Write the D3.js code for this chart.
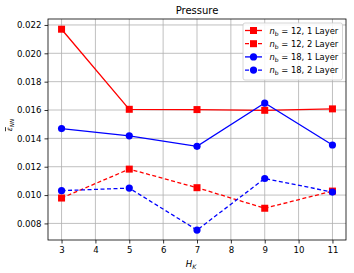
<!DOCTYPE html>
<html>
<head>
<meta charset="utf-8">
<script src="https://cdn.jsdelivr.net/npm/d3@7"></script>
<style>
  body { margin: 0; background: #fff; }
  text { font-family: "DejaVu Sans", sans-serif; }
</style>
</head>
<body>
<svg width="354" height="273"></svg>
<script>
// chart data
const hk = [3, 5, 7, 9, 11];
const nb12Layer1 = [0.0217, 0.01605, 0.01603, 0.01598, 0.01608];
const nb12Layer2 = [0.00979, 0.01183, 0.01052, 0.00907, 0.01028];
const nb18Layer1 = [0.01469, 0.01418, 0.01344, 0.01649, 0.01353];
const nb18Layer2 = [0.01031, 0.01049, 0.00753, 0.01117, 0.01021];
const xTicks = [3, 4, 5, 6, 7, 8, 9, 10, 11];
const yTicks = [0.008, 0.010, 0.012, 0.014, 0.016, 0.018, 0.020, 0.022];

const series = [
    { nb: 12, layer: 1, values: nb12Layer1, color: "#ff0000", dash: null, marker: "square" },
    { nb: 12, layer: 2, values: nb12Layer2, color: "#ff0000", dash: "4,2.5", marker: "square" },
    { nb: 18, layer: 1, values: nb18Layer1, color: "#0000ff", dash: null, marker: "circle" },
    { nb: 18, layer: 2, values: nb18Layer2, color: "#0000ff", dash: "4,2.5", marker: "circle" },
];

const L = 48, R = 346, T = 19, B = 240;
const svg = d3.select("svg");

const x = d3.scaleLinear().domain([2.6, 11.4]).range([L, R]);
const y = d3.scaleLinear().domain([0.00683, 0.02242]).range([B, T]);

// grid
svg.append("g").selectAll("line").data(xTicks).join("line")
    .attr("x1", d => x(d)).attr("x2", d => x(d))
    .attr("y1", T).attr("y2", B)
    .attr("stroke", "#b0b0b0").attr("stroke-width", 0.8);
svg.append("g").selectAll("line").data(yTicks).join("line")
    .attr("x1", L).attr("x2", R)
    .attr("y1", d => y(d)).attr("y2", d => y(d))
    .attr("stroke", "#b0b0b0").attr("stroke-width", 0.8);

// axes
const xAxis = svg.append("g").attr("transform", `translate(0,${B})`)
    .call(d3.axisBottom(x).tickValues(xTicks).tickSize(3.5).tickPadding(3));
const yAxis = svg.append("g").attr("transform", `translate(${L},0)`)
    .call(d3.axisLeft(y).tickValues(yTicks).tickFormat(d3.format(".3f")).tickSize(3.5).tickPadding(3));
[xAxis, yAxis].forEach(a => {
    a.select(".domain").remove();
    a.selectAll("text").attr("font-size", 8.6).attr("fill", "#000")
        .style("font-family", "'DejaVu Sans', sans-serif");
    a.selectAll("line").attr("stroke", "#000").attr("stroke-width", 0.8);
});

// frame
svg.append("rect").attr("x", L).attr("y", T).attr("width", R - L).attr("height", B - T)
    .attr("fill", "none").attr("stroke", "#000").attr("stroke-width", 0.8);

// lines and markers
const line = d3.line().x((d, i) => x(hk[i])).y(d => y(d));
const drawMarker = (g, s, cx, cy) => {
    if (s.marker === "square") {
        g.append("rect").attr("x", cx - 3.5).attr("y", cy - 3.5)
            .attr("width", 7).attr("height", 7).attr("fill", s.color);
    } else {
        g.append("circle").attr("cx", cx).attr("cy", cy).attr("r", 3.6).attr("fill", s.color);
    }
};
series.forEach(s => {
    const g = svg.append("g");
    g.append("path").attr("d", line(s.values))
        .attr("fill", "none").attr("stroke", s.color).attr("stroke-width", 1.3)
        .attr("stroke-dasharray", s.dash);
    s.values.forEach((v, i) => drawMarker(g, s, x(hk[i]), y(v)));
});

// title and labels
svg.append("text").attr("x", (L + R) / 2).attr("y", 14).attr("text-anchor", "middle")
    .attr("font-size", 10).text("Pressure");

const xl = svg.append("text").attr("x", 191).attr("y", 267)
    .attr("text-anchor", "middle").attr("font-size", 8.6).attr("font-style", "italic");
xl.append("tspan").text("H");
xl.append("tspan").attr("font-size", 6.2).attr("dy", 2).text("K");

const yl = svg.append("text").attr("transform", `translate(12,125) rotate(-90)`)
    .attr("text-anchor", "middle").attr("font-size", 7.6).attr("font-style", "italic");
yl.append("tspan").attr("text-decoration", "overline").text("ε");
yl.append("tspan").attr("font-size", 5.6).attr("dy", 1.8).text("NN");

// legend
const lg = svg.append("g").attr("transform", "translate(243,23)");
lg.append("rect").attr("width", 99.5).attr("height", 57).attr("rx", 2)
    .attr("fill", "#fff").attr("fill-opacity", 0.85)
    .attr("stroke", "#cccccc").attr("stroke-width", 0.8);
series.forEach((s, i) => {
    const yy = 7.5 + i * 13.2;
    lg.append("line").attr("x1", 2).attr("x2", 19).attr("y1", yy).attr("y2", yy)
        .attr("stroke", s.color).attr("stroke-width", 1.3).attr("stroke-dasharray", s.dash);
    drawMarker(lg, s, 10.5, yy);
    const t = lg.append("text").attr("x", 26.5).attr("y", yy + 3).attr("font-size", 8.4);
    t.append("tspan").attr("font-style", "italic").text("n");
    t.append("tspan").attr("font-size", 6).attr("dy", 2).text("b");
    t.append("tspan").attr("dy", -2).text(` = ${s.nb}, ${s.layer} Layer`);
});
</script>
</body>
</html>
